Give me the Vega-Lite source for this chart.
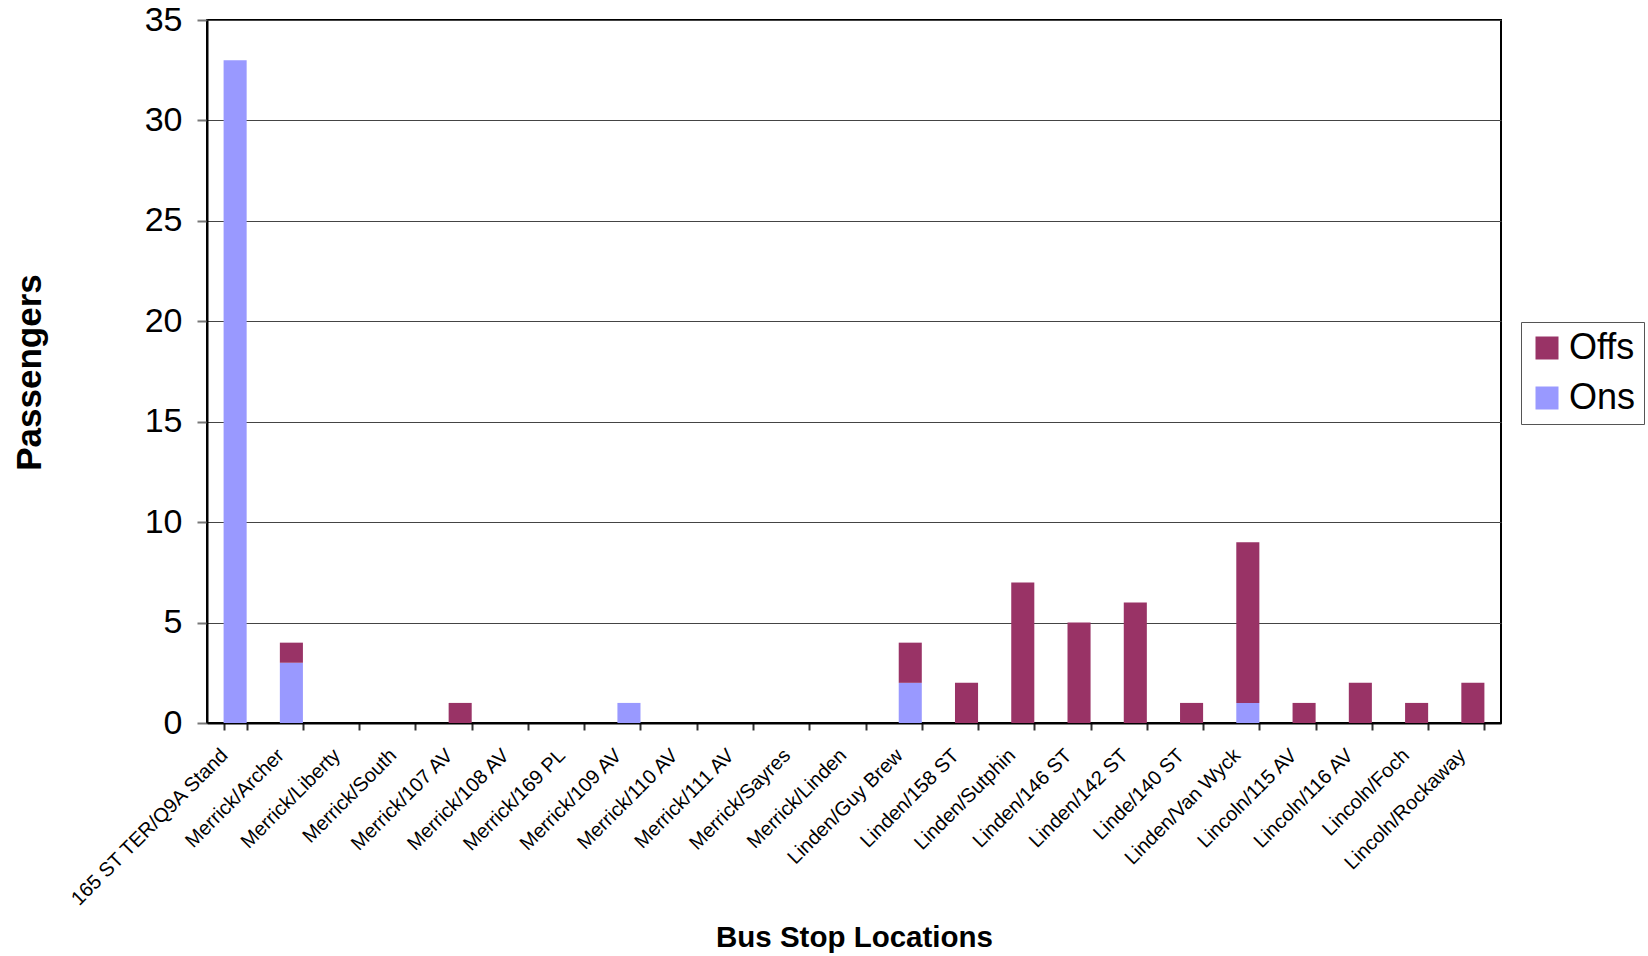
{
  "$schema": "https://vega.github.io/schema/vega-lite/v6.json",
  "width": 1294,
  "height": 703,
  "autosize": {"type": "none"},
  "padding": {"left": 207, "top": 20, "right": 147, "bottom": 233},
  "background": "white",
  "config": {
    "font": "Liberation Sans",
    "view": {"stroke": "#000", "strokeWidth": 2},
    "axis": {"labelFont": "Liberation Sans", "titleFont": "Liberation Sans", "labelColor": "#000", "titleColor": "#000"}
  },
  "data": {
    "values": [
      {"Stop": "165 ST TER/Q9A Stand", "Type": "Ons", "Passengers": 33},
      {"Stop": "165 ST TER/Q9A Stand", "Type": "Offs", "Passengers": 0},
      {"Stop": "Merrick/Archer", "Type": "Ons", "Passengers": 3},
      {"Stop": "Merrick/Archer", "Type": "Offs", "Passengers": 1},
      {"Stop": "Merrick/Liberty", "Type": "Ons", "Passengers": 0},
      {"Stop": "Merrick/Liberty", "Type": "Offs", "Passengers": 0},
      {"Stop": "Merrick/South", "Type": "Ons", "Passengers": 0},
      {"Stop": "Merrick/South", "Type": "Offs", "Passengers": 0},
      {"Stop": "Merrick/107 AV", "Type": "Ons", "Passengers": 0},
      {"Stop": "Merrick/107 AV", "Type": "Offs", "Passengers": 1},
      {"Stop": "Merrick/108 AV", "Type": "Ons", "Passengers": 0},
      {"Stop": "Merrick/108 AV", "Type": "Offs", "Passengers": 0},
      {"Stop": "Merrick/169 PL", "Type": "Ons", "Passengers": 0},
      {"Stop": "Merrick/169 PL", "Type": "Offs", "Passengers": 0},
      {"Stop": "Merrick/109 AV", "Type": "Ons", "Passengers": 1},
      {"Stop": "Merrick/109 AV", "Type": "Offs", "Passengers": 0},
      {"Stop": "Merrick/110 AV", "Type": "Ons", "Passengers": 0},
      {"Stop": "Merrick/110 AV", "Type": "Offs", "Passengers": 0},
      {"Stop": "Merrick/111 AV", "Type": "Ons", "Passengers": 0},
      {"Stop": "Merrick/111 AV", "Type": "Offs", "Passengers": 0},
      {"Stop": "Merrick/Sayres", "Type": "Ons", "Passengers": 0},
      {"Stop": "Merrick/Sayres", "Type": "Offs", "Passengers": 0},
      {"Stop": "Merrick/Linden", "Type": "Ons", "Passengers": 0},
      {"Stop": "Merrick/Linden", "Type": "Offs", "Passengers": 0},
      {"Stop": "Linden/Guy Brew", "Type": "Ons", "Passengers": 2},
      {"Stop": "Linden/Guy Brew", "Type": "Offs", "Passengers": 2},
      {"Stop": "Linden/158 ST", "Type": "Ons", "Passengers": 0},
      {"Stop": "Linden/158 ST", "Type": "Offs", "Passengers": 2},
      {"Stop": "Linden/Sutphin", "Type": "Ons", "Passengers": 0},
      {"Stop": "Linden/Sutphin", "Type": "Offs", "Passengers": 7},
      {"Stop": "Linden/146 ST", "Type": "Ons", "Passengers": 0},
      {"Stop": "Linden/146 ST", "Type": "Offs", "Passengers": 5},
      {"Stop": "Linden/142 ST", "Type": "Ons", "Passengers": 0},
      {"Stop": "Linden/142 ST", "Type": "Offs", "Passengers": 6},
      {"Stop": "Linde/140 ST", "Type": "Ons", "Passengers": 0},
      {"Stop": "Linde/140 ST", "Type": "Offs", "Passengers": 1},
      {"Stop": "Linden/Van Wyck", "Type": "Ons", "Passengers": 1},
      {"Stop": "Linden/Van Wyck", "Type": "Offs", "Passengers": 8},
      {"Stop": "Lincoln/115 AV", "Type": "Ons", "Passengers": 0},
      {"Stop": "Lincoln/115 AV", "Type": "Offs", "Passengers": 1},
      {"Stop": "Lincoln/116 AV", "Type": "Ons", "Passengers": 0},
      {"Stop": "Lincoln/116 AV", "Type": "Offs", "Passengers": 2},
      {"Stop": "Lincoln/Foch", "Type": "Ons", "Passengers": 0},
      {"Stop": "Lincoln/Foch", "Type": "Offs", "Passengers": 1},
      {"Stop": "Lincoln/Rockaway", "Type": "Ons", "Passengers": 0},
      {"Stop": "Lincoln/Rockaway", "Type": "Offs", "Passengers": 2}
    ]
  },
  "mark": {"type": "bar"},
  "encoding": {
    "x": {
      "field": "Stop",
      "type": "nominal",
      "sort": null,
      "scale": {"paddingInner": 0.59, "paddingOuter": 0.295},
      "axis": {
        "title": "Bus Stop Locations",
        "titleFontSize": 29.5,
        "titleFontWeight": "bold",
        "titleX": 647,
        "titleY": 223,
        "titleBaseline": "alphabetic",
        "labelAngle": -45,
        "labelAlign": "right",
        "labelBaseline": "middle",
        "labelFontSize": 20,
        "labelPadding": 22,
        "labelOffset": -11,
        "labelOverlap": false,
        "labelLimit": 400,
        "tickBand": "extent",
        "tickSize": 7,
        "tickColor": "#333",
        "tickWidth": 2,
        "domainColor": "#000",
        "domainWidth": 2,
        "grid": false
      }
    },
    "y": {
      "field": "Passengers",
      "type": "quantitative",
      "stack": "zero",
      "scale": {"domain": [0, 35], "nice": false},
      "axis": {
        "title": "Passengers",
        "titleFontSize": 35,
        "titleFontWeight": "bold",
        "titleAngle": -90,
        "titleX": -167,
        "titleY": 352,
        "titleBaseline": "alphabetic",
        "titleAlign": "center",
        "values": [0, 5, 10, 15, 20, 25, 30, 35],
        "labelFontSize": 34,
        "labelPadding": 15,
        "tickSize": 10,
        "tickColor": "#777",
        "tickWidth": 2,
        "domainColor": "#000",
        "domainWidth": 2,
        "grid": true,
        "gridColor": "#444",
        "gridWidth": 1
      }
    },
    "color": {
      "field": "Type",
      "type": "nominal",
      "scale": {"domain": ["Offs", "Ons"], "range": ["#993366", "#9999FF"]},
      "legend": {
        "title": null,
        "orient": "none",
        "legendX": 1314,
        "legendY": 302,
        "symbolType": "square",
        "symbolSize": 529,
        "symbolStrokeWidth": 0,
        "symbolOpacity": 1,
        "labelFontSize": 36,
        "labelFont": "Liberation Sans",
        "labelColor": "#000",
        "labelOffset": 4,
        "rowPadding": 14,
        "padding": 8,
        "strokeColor": "#555",
        "fillColor": "white"
      }
    },
    "order": {"field": "Type", "sort": "descending"}
  }
}
